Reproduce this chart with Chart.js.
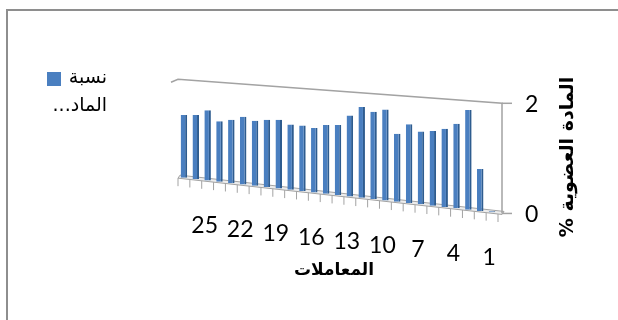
<!DOCTYPE html>
<html lang="ar">
<head>
<meta charset="utf-8">
<title>نسبة المادة العضوية</title>
<script src="https://cdn.jsdelivr.net/npm/chart.js@4.4.1/dist/chart.umd.min.js"></script>
<style>
  html, body { margin: 0; padding: 0; background: #fff; }
  #wrap { width: 618px; height: 320px; }
</style>
</head>
<body>
<div id="wrap"><canvas id="chart" width="618" height="320"></canvas></div>
<script>
// Treatments (categories), drawn right to left
const treatments = [
    '1', '2', '3', '4', '5', '6', '7', '8', '9', '10', '11', '12', '13', '14',
    '15', '16', '17', '18', '19', '20', '21', '22', '23', '24', '25', '26', '27'
];

// Organic matter % for each treatment
const organicMatter = [
    0.02, 0.77, 1.83, 1.56, 1.45, 1.39, 1.36, 1.48, 1.28, 1.72, 1.66, 1.73, 1.55, 1.35,
    1.33, 1.25, 1.28, 1.28, 1.35, 1.33, 1.29, 1.35, 1.27, 1.22, 1.42, 1.30, 1.28
];

const valueTicks = [0, 2];
const seriesName = 'نسبة المادة العضوية';
const legendLines = ['نسبة', 'الماد...'];
const xTitle = 'المعاملات';
const yTitle = 'المادة العضوية %';

const ARABIC_FONT = '"DejaVu Sans", sans-serif';
const BAR_BLUE = '#4a7fc0';
const BAR_SIDE = '#2e5c8f';
const FRAME_GREY = '#a3a3a3';

// The plot is drawn as a tilted box: the floor climbs toward the left
// and far bars are drawn a little shorter.
const FLOOR_SLOPE = 0.112;
const FAR_SHRINK = 0.11;
const WALL_GAP = 4;

function floorY(chart, px) {
    return chart.scales.y.getPixelForValue(0) + FLOOR_SLOPE * (px - chart.chartArea.right);
}

function depthScale(chart, px) {
    const { left, right } = chart.chartArea;
    return 1 - FAR_SHRINK * (right - px) / (right - left);
}

const perspective = {
    id: 'perspective',

    beforeDraw(chart) {
        const ctx = chart.ctx;
        ctx.save();
        ctx.fillStyle = '#fff';
        ctx.fillRect(0, 0, chart.width, chart.height);
        // outer frame, runs off the right and bottom edges
        ctx.strokeStyle = '#8e8e8e';
        ctx.lineWidth = 2;
        ctx.strokeRect(7, 10, chart.width + 20, chart.height + 20);
        ctx.restore();
    },

    beforeDatasetsDraw(chart) {
        const ctx = chart.ctx;
        const xs = chart.scales.x;
        const ys = chart.scales.y;
        const { left, right } = chart.chartArea;
        const base = ys.getPixelForValue(0);
        const span = base - ys.getPixelForValue(valueTicks[valueTicks.length - 1]);
        const wallX = right + WALL_GAP;
        const topY = px => floorY(chart, px) - span * depthScale(chart, px);

        ctx.save();
        ctx.lineWidth = 1;
        ctx.strokeStyle = FRAME_GREY;

        // floor slab
        ctx.fillStyle = '#ededed';
        ctx.beginPath();
        ctx.moveTo(left, floorY(chart, left) + 1);
        ctx.lineTo(wallX, floorY(chart, wallX) + 1);
        ctx.lineTo(wallX + 2, floorY(chart, wallX) - 2);
        ctx.lineTo(left + 2, floorY(chart, left) - 2);
        ctx.closePath();
        ctx.fill();
        ctx.stroke();

        // tick marks under the front edge, one per category boundary
        const step = Math.abs(xs.getPixelForValue(0) - xs.getPixelForValue(1));
        for (let j = 0; j <= treatments.length; j++) {
            const tx = left + j * step;
            ctx.beginPath();
            ctx.moveTo(tx, floorY(chart, tx) + 1);
            ctx.lineTo(tx, floorY(chart, tx) + 9);
            ctx.stroke();
        }

        // back wall top edge and right wall edge
        ctx.lineWidth = 1.5;
        ctx.beginPath();
        ctx.moveTo(left - 7, topY(left) + 3);
        ctx.lineTo(left, topY(left));
        ctx.lineTo(wallX, topY(wallX));
        ctx.lineTo(wallX, floorY(chart, wallX));
        ctx.stroke();

        // value axis tick marks
        valueTicks.forEach(v => {
            const ty = floorY(chart, wallX) - (base - ys.getPixelForValue(v)) * depthScale(chart, wallX);
            ctx.beginPath();
            ctx.moveTo(wallX, ty);
            ctx.lineTo(wallX + 10, ty);
            ctx.stroke();
        });

        // bars, each lifted onto the sloping floor
        const meta = chart.getDatasetMeta(0);
        meta.data.forEach(bar => {
            const s = depthScale(chart, bar.x);
            ctx.save();
            ctx.translate(0, floorY(chart, bar.x));
            ctx.scale(1, s);
            ctx.translate(0, -base);
            bar.draw(ctx);
            ctx.restore();
        });

        ctx.restore();
        return false;
    },

    afterDraw(chart) {
        const ctx = chart.ctx;
        const xs = chart.scales.x;

        ctx.save();
        ctx.fillStyle = '#000';

        // category labels, every third one, following the floor
        ctx.font = '23px Lato';
        ctx.textAlign = 'center';
        ctx.textBaseline = 'middle';
        for (let i = 0; i < treatments.length; i += 3) {
            const px = xs.getPixelForValue(i);
            ctx.fillText(treatments[i], px - 3, floorY(chart, px) + 45);
        }

        ctx.direction = 'rtl';

        // axis titles
        ctx.font = 'bold 17px ' + ARABIC_FONT;
        ctx.fillText(xTitle, 334, 271);

        ctx.save();
        ctx.translate(568, 157);
        ctx.rotate(-Math.PI / 2);
        ctx.font = 'bold 19px ' + ARABIC_FONT;
        ctx.fillText(yTitle, 0, 0);
        ctx.restore();

        // legend
        ctx.fillStyle = BAR_BLUE;
        ctx.fillRect(47, 72, 14, 14);
        ctx.fillStyle = '#000';
        ctx.font = '19px ' + ARABIC_FONT;
        ctx.textAlign = 'right';
        ctx.fillText(legendLines[0], 107, 78);
        ctx.fillText(legendLines[1], 107, 106);

        ctx.restore();
    }
};

Chart.defaults.font.family = 'Lato';

new Chart(document.getElementById('chart'), {
    type: 'bar',
    data: {
        labels: treatments,
        datasets: [{
            label: seriesName,
            data: organicMatter,
            backgroundColor: BAR_BLUE,
            borderColor: BAR_SIDE,
            borderWidth: { top: 0, bottom: 0, left: 0, right: 2 },
            borderSkipped: false,
            barPercentage: 0.55,
            categoryPercentage: 1
        }]
    },
    options: {
        responsive: false,
        animation: false,
        layout: {
            padding: { left: 178, right: 80, top: 103, bottom: 107 }
        },
        plugins: {
            legend: { display: false },
            title: { display: false },
            tooltip: { enabled: false }
        },
        scales: {
            x: {
                display: false,
                reverse: true
            },
            y: {
                position: 'right',
                min: valueTicks[0],
                max: valueTicks[valueTicks.length - 1],
                grid: { display: false, drawTicks: false },
                border: { display: false },
                ticks: {
                    stepSize: 2,
                    padding: 27,
                    labelOffset: 2,
                    color: '#000',
                    font: { size: 23 }
                },
                afterFit(scale) {
                    scale.width = 40;
                }
            }
        }
    },
    plugins: [perspective]
});
</script>
</body>
</html>
